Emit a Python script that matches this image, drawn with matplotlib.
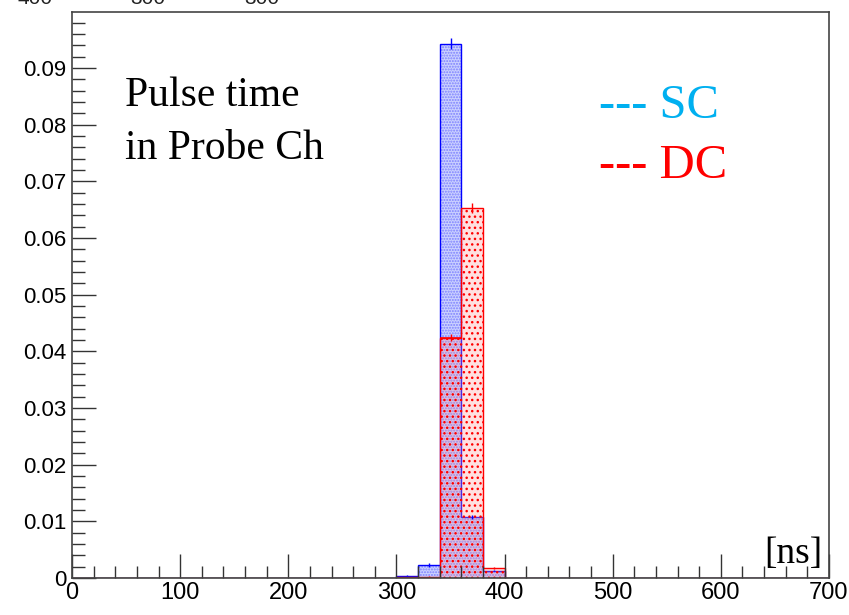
import numpy as np
import matplotlib
matplotlib.use("Agg")
import matplotlib.pyplot as plt
from matplotlib.ticker import MultipleLocator

# histogram data (bins of 20 ns, only non-empty bins listed)
bin_left = [300, 320, 340, 360, 380]
sc_vals = [0.0004, 0.0023, 0.0943, 0.0108, 0.0013]
dc_vals = [0.0001, 0.0002, 0.0424, 0.0653, 0.0018]
sc_err = [0.0001, 0.0003, 0.0010, 0.0003, 0.0001]
dc_err = [0.0001, 0.0001, 0.0006, 0.0008, 0.0002]

x_min, x_max, bw = 0, 700, 20
edges = np.arange(x_min, x_max + bw, bw)

def full(vals):
    h = np.zeros(len(edges) - 1)
    for l, v in zip(bin_left, vals):
        h[(l - x_min) // bw] = v
    return h

sc = full(sc_vals)
dc = full(dc_vals)
centers = np.array(bin_left) + bw / 2

fig = plt.figure(figsize=(8.49, 6.15), dpi=100)
ax = fig.add_axes([72 / 849, 37 / 615, 757 / 849, 566 / 615])

# SC (blue)
plt.rcParams["hatch.color"] = "blue"
ax.stairs(sc, edges, fill=True, facecolor=(0.6, 0.65, 1.0, 0.5),
          edgecolor=(0.3, 0.3, 1.0, 0.6), hatch="......", linewidth=0)
ax.stairs(sc, edges, color="blue", linewidth=1.0)
ax.errorbar(centers, sc_vals, yerr=sc_err, fmt="none", ecolor="blue", elinewidth=1)

# DC (red)
ax.stairs(dc, edges, fill=True, facecolor=(1.0, 0.6, 0.6, 0.3),
          edgecolor="red", hatch="...", linewidth=0)
ax.stairs(dc, edges, color="red", linewidth=1.0)
ax.errorbar(centers, dc_vals, yerr=dc_err, fmt="none", ecolor="red", elinewidth=1)
ax.hlines(dc_vals[2], 340, 360, color="red", linewidth=1.2)

ax.set_xlim(x_min, x_max)
ax.set_ylim(0, 0.0999)

ax.xaxis.set_major_locator(MultipleLocator(100))
ax.xaxis.set_minor_locator(MultipleLocator(20))
ax.yaxis.set_major_locator(MultipleLocator(0.01))
ax.yaxis.set_minor_locator(MultipleLocator(0.002))
ax.yaxis.set_major_formatter(plt.FuncFormatter(lambda v, p: "0" if abs(v) < 1e-9 else "%g" % round(v, 3)))

ax.tick_params(which="both", direction="in", top=False, right=False, color="#333333")
ax.tick_params(which="major", length=17, width=1)
ax.tick_params(which="minor", length=9, width=1)
ax.tick_params(axis="x", labelsize=17, pad=3)
ax.tick_params(axis="y", labelsize=16, pad=4)
for lab in ax.get_xticklabels() + ax.get_yticklabels():
    lab.set_family("Liberation Sans")
for s in ax.spines.values():
    s.set_color("#444444")
    s.set_linewidth(1.2)

serif = "Liberation Serif"
ax.text(49, 0.0833, "Pulse time", fontsize=30, family=serif)
ax.text(49, 0.0739, "in Probe Ch", fontsize=30, family=serif)
ax.text(487, 0.0812, "--- SC", fontsize=35, family=serif, color="#00b0f0")
ax.text(487, 0.0706, "--- DC", fontsize=35, family=serif, color="red")
ax.text(640, 0.0027, "[ns]", fontsize=27, family=serif)

# cut-off labels of the panel above
for xp, t in [(35, "400"), (148, "300"), (262, "300")]:
    fig.text(xp / 849, 1.0 + 2 / 615, t, fontsize=15, family="Liberation Sans",
             ha="center", va="center", color="#222222")

fig.savefig("out.png", dpi=100)
